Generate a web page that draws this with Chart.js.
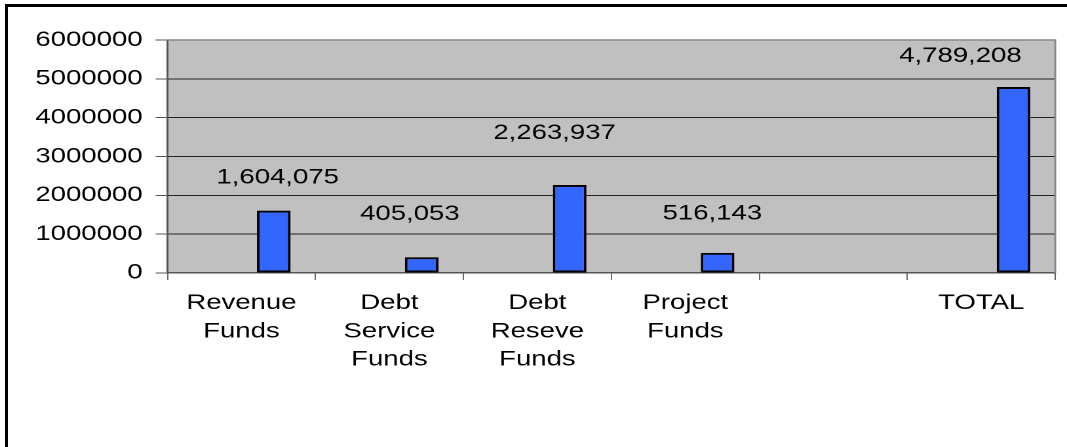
<!DOCTYPE html>
<html>
<head>
<meta charset="utf-8">
<title>Fund Balances</title>
<script src="https://cdn.jsdelivr.net/npm/chart.js@4.4.0/dist/chart.umd.min.js"></script>
<style>
  html, body { margin: 0; padding: 0; background: #fff; overflow: hidden; }
  /* the original picture is stretched sideways, so the chart is drawn narrow and widened */
  #stretch { position: absolute; left: 0; top: 0; width: 814px; height: 447px; transform: scaleX(1.3108); transform-origin: 0 0; }
  #frame { position: absolute; left: 5px; top: 4px; width: 1100px; height: 500px; border-top: 3px solid #000; border-left: 3px solid #000; }
</style>
</head>
<body>
<div id="stretch"><canvas id="chart" width="814" height="447"></canvas></div>
<div id="frame"></div>
<script>
const categories = [["Revenue", "Funds"], ["Debt", "Service", "Funds"], ["Debt", "Reseve", "Funds"], ["Project", "Funds"], "", "TOTAL"];
const seriesOne = [null, null, null, null, null, null];
const seriesTwo = [null, null, null, null, null, null];
const fundBalances = [1604075, 405053, 2263937, 516143, null, 4789208];
const yTicks = [0, 1000000, 2000000, 3000000, 4000000, 5000000, 6000000];

// hand placed value labels in the original: [dx, lift above bar top]
const labelNudge = [[3, 33], [-9, 43], [-11.5, 52], [-4, 39], null, [-40.5, 31]];

const FONT = "'Liberation Sans', Arial, sans-serif";

const plotBox = {
  id: "plotBox",
  beforeDraw(chart) {
    const { ctx, chartArea: a } = chart;
    ctx.save();
    ctx.fillStyle = "#c0c0c0";
    ctx.fillRect(a.left, a.top, a.right - a.left, a.bottom - a.top);
    ctx.restore();
  },
  beforeDatasetsDraw(chart) {
    const { ctx, chartArea: a } = chart;
    ctx.save();
    ctx.strokeStyle = "#8a8a8a";
    ctx.lineWidth = 1.5;
    ctx.beginPath();
    ctx.moveTo(a.left, a.top);
    ctx.lineTo(a.right, a.top);
    ctx.lineTo(a.right, a.bottom);
    ctx.stroke();
    ctx.restore();
  },
  afterDatasetsDraw(chart) {
    const { ctx } = chart;
    const meta = chart.getDatasetMeta(2);
    ctx.save();
    ctx.fillStyle = "#000";
    ctx.font = "21px " + FONT;
    ctx.textAlign = "center";
    ctx.textBaseline = "middle";
    meta.data.forEach((bar, i) => {
      const v = fundBalances[i];
      if (v == null || !labelNudge[i]) return;
      ctx.fillText(v.toLocaleString("en-US"), bar.x + labelNudge[i][0], bar.y - labelNudge[i][1]);
    });
    ctx.restore();
  }
};

new Chart(document.getElementById("chart"), {
  type: "bar",
  data: {
    labels: categories,
    datasets: [
      { label: "Series 1", data: seriesOne },
      { label: "Series 2", data: seriesTwo },
      {
        label: "Balance",
        data: fundBalances,
        backgroundColor: "#3366ff",
        borderColor: "#000",
        borderWidth: 2,
        borderSkipped: false
      }
    ]
  },
  options: {
    responsive: false,
    animation: false,
    devicePixelRatio: 2,
    categoryPercentage: 0.655,
    barPercentage: 1.04,
    layout: { padding: { left: 17, right: 9, top: 40, bottom: 64 } },
    plugins: {
      legend: { display: false },
      tooltip: { enabled: false }
    },
    scales: {
      x: {
        grid: { drawOnChartArea: false, drawTicks: true, tickLength: 7, color: "#666", offset: true },
        border: { color: "#555", width: 1.5 },
        ticks: {
          color: "#000",
          padding: 9,
          maxRotation: 0,
          autoSkip: false,
          font: { size: 21, family: FONT, lineHeight: 1.35 }
        }
      },
      y: {
        min: 0,
        max: 6000000,
        afterBuildTicks: axis => { axis.ticks = yTicks.map(v => ({ value: v })); },
        grid: {
          color: c => (c.tick && c.tick.value === 6000000 ? "#8a8a8a" : "#222"),
          tickColor: "#555",
          tickLength: 9,
          lineWidth: 1
        },
        border: { color: "#555", width: 1.5 },
        ticks: {
          color: "#000",
          padding: 10,
          font: { size: 21, family: FONT },
          callback: v => String(v)
        }
      }
    }
  },
  plugins: [plotBox]
});
</script>
</body>
</html>
